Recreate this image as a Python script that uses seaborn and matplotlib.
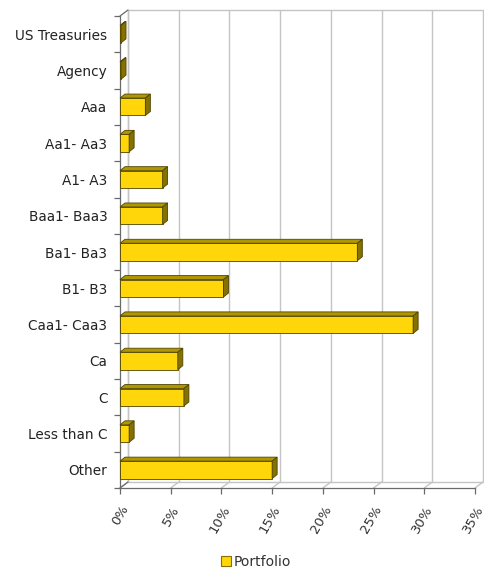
import matplotlib
matplotlib.use("Agg")
import matplotlib.pyplot as plt
import matplotlib.transforms as mtransforms
from matplotlib.patches import Polygon
from matplotlib.lines import Line2D
import numpy as np
import pandas as pd
import seaborn as sns

# Rating buckets and portfolio weights (%)
ratings = ["US Treasuries", "Agency", "Aaa", "Aa1- Aa3", "A1- A3", "Baa1- Baa3",
           "Ba1- Ba3", "B1- B3", "Caa1- Caa3", "Ca", "C", "Less than C", "Other"]
portfolio = [0.1, 0.1, 2.5, 0.9, 4.2, 4.2, 23.4, 10.2, 28.9, 5.7, 6.3, 0.9, 15.0]
x_ticks = [0, 5, 10, 15, 20, 25, 30, 35]
x_tick_labels = ["0%", "5%", "10%", "15%", "20%", "25%", "30%", "35%"]
series_name = "Portfolio"

FRONT = "#FFD60A"
TOP = "#B09600"
SIDE = "#857100"
EDGE = "#4F4400"
GRID = "#C4C4C4"
AXIS = "#6A6A6A"

df = pd.DataFrame({"rating": ratings, "value": portfolio})

sns.set_theme(style="white")
plt.rcParams["font.family"] = ["DejaVu Sans"]

DPI = 100
fig = plt.figure(figsize=(4.85, 5.69), dpi=DPI)
fig.patch.set_facecolor("white")
ax = fig.add_axes([120 / 485, 81 / 569, 355 / 485, 472 / 569])
ax.set_facecolor("none")

sns.barplot(data=df, y="rating", x="value", orient="h", ax=ax,
            color=FRONT, width=0.48, edgecolor=EDGE, linewidth=0.6,
            saturation=1, zorder=3)

ax.set_xlim(0, 35)
ax.set_ylim(len(ratings) - 0.5, -0.5)
ax.set_xlabel("")
ax.set_ylabel("")

# back wall / floor offset (pixels) and bar depth (pixels)
wx, wy = 8, 6
bx, by = 5, 4

wall_x = mtransforms.offset_copy(ax.get_xaxis_transform(), fig, x=wx, y=wy, units="dots")
ident = mtransforms.IdentityTransform()

# vertical gridlines on the back wall
for xv in x_ticks:
    ax.plot([xv, xv], [0, 1], transform=wall_x, color=GRID, lw=1.0,
            clip_on=False, zorder=0)
# top and floor back edges
ax.plot([0, 35], [1, 1], transform=wall_x, color=GRID, lw=1.0, clip_on=False, zorder=0)
ax.plot([0, 35], [0, 0], transform=wall_x, color=GRID, lw=1.0, clip_on=False, zorder=0)

# diagonals joining the front axes to the back wall
disp = ax.transAxes
for xv in x_ticks:
    p0 = ax.get_xaxis_transform().transform((xv, 0))
    ax.add_line(Line2D([p0[0], p0[0] + wx], [p0[1], p0[1] + wy], transform=ident,
                       color=GRID, lw=1.0, clip_on=False, zorder=0))
for ya in (0, 1):
    p0 = disp.transform((0, ya))
    ax.add_line(Line2D([p0[0], p0[0] + wx], [p0[1], p0[1] + wy], transform=ident,
                       color=AXIS, lw=0.9, clip_on=False, zorder=1))
p_bot = disp.transform((0, 0))
p_top = disp.transform((0, 1))
ax.add_line(Line2D([p_bot[0] + wx, p_top[0] + wx], [p_bot[1] + wy, p_top[1] + wy],
                   transform=ident, color=GRID, lw=1.0, clip_on=False, zorder=0))

# 3-D top and side faces built from each bar's geometry
for patch in list(ax.patches):
    x0, y0 = patch.get_x(), patch.get_y()
    w, h = patch.get_width(), patch.get_height()
    (ax0, ay0), (ax1, ay1) = ax.transData.transform([(x0, y0), (x0 + w, y0 + h)])
    left, right = min(ax0, ax1), max(ax0, ax1)
    low, high = min(ay0, ay1), max(ay0, ay1)
    top_face = Polygon([(left, high), (right, high), (right + bx, high + by),
                        (left + bx, high + by)], closed=True, transform=ident,
                       facecolor=TOP, edgecolor=EDGE, lw=0.6, zorder=3, clip_on=False)
    side_face = Polygon([(right, low), (right + bx, low + by), (right + bx, high + by),
                         (right, high)], closed=True, transform=ident,
                        facecolor=SIDE, edgecolor=EDGE, lw=0.6, zorder=3, clip_on=False)
    ax.add_patch(top_face)
    ax.add_patch(side_face)

# spines
for s in ("top", "right"):
    ax.spines[s].set_visible(False)
for s in ("left", "bottom"):
    ax.spines[s].set_color(AXIS)
    ax.spines[s].set_linewidth(0.9)

ax.set_xticks(x_ticks)
ax.set_xticklabels(x_tick_labels, rotation=60, ha="right", va="top",
                   rotation_mode="anchor", fontsize=9.5, color="#333333")
ax.tick_params(axis="x", which="major", direction="out", length=4, width=0.9,
               color=AXIS, pad=7, bottom=True)

ax.set_yticks(range(len(ratings)))
ax.set_yticklabels(ratings, fontsize=9.8, color="#222222")
ax.tick_params(axis="y", which="major", length=0, pad=9)
ax.set_yticks(np.arange(-0.5, len(ratings), 1.0), minor=True)
ax.tick_params(axis="y", which="minor", direction="out", length=4, width=0.9,
               color=AXIS, left=True)

handle = plt.Rectangle((0, 0), 1, 1, facecolor=FRONT, edgecolor=SIDE, lw=0.8)
fig.legend([handle], [series_name], loc="center", bbox_to_anchor=(256 / 485, 1 - 562 / 569),
           frameon=False, fontsize=10, handlelength=0.7, handleheight=0.7,
           handletextpad=0.2, labelcolor="#333333")

fig.savefig("out.png", dpi=DPI, facecolor="white")
